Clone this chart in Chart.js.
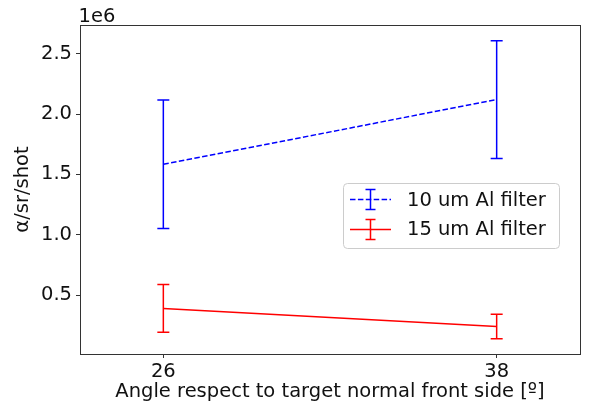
<!DOCTYPE html>
<html>
<head>
<meta charset="utf-8">
<script src="https://cdn.jsdelivr.net/npm/chart.js@4.4.1/dist/chart.umd.min.js"></script>
<style>
  html, body { margin: 0; padding: 0; background: #fff; }
  #wrap { width: 589px; height: 407px; position: relative; }
</style>
</head>
<body>
<div id="wrap"><canvas id="c" width="589" height="407"></canvas></div>
<script>
// Angles (degrees) at which both filters were measured
const angles = [26, 38];
// Alpha yield per steradian per shot, with symmetric uncertainties
const filter10Values = [1.584e6, 2.120e6];
const filter10Errors = [0.532e6, 0.488e6];
const filter15Values = [0.390e6, 0.240e6];
const filter15Errors = [0.198e6, 0.102e6];
// Axis ticks
const xTickValues = [26, 38];
const yTickValues = [0.5e6, 1.0e6, 1.5e6, 2.0e6, 2.5e6];
const seriesLabels = ['10 um Al filter', '15 um Al filter'];

const FONT = 'DejaVu Sans';
const FS = 19.5;
const TEXT = '#111';
const BLUE = '#0000ff';
const RED = '#ff0000';
const DASH = [5.5, 2.4];

function points(xs, ys) {
  return xs.map((x, i) => ({ x: x, y: ys[i] }));
}

// Vertical error bars with caps, drawn through the chart scales
const errorBars = {
  id: 'errorBars',
  afterDatasetsDraw(chart) {
    const { ctx, scales: { x, y } } = chart;
    chart.data.datasets.forEach(ds => {
      ctx.save();
      ctx.strokeStyle = ds.borderColor;
      ctx.lineWidth = 1.5;
      ds.data.forEach((p, i) => {
        const e = ds.errors[i];
        const px = x.getPixelForValue(p.x);
        const top = y.getPixelForValue(p.y + e);
        const bot = y.getPixelForValue(p.y - e);
        ctx.beginPath();
        ctx.moveTo(px, top); ctx.lineTo(px, bot);
        ctx.moveTo(px - 6, top); ctx.lineTo(px + 6, top);
        ctx.moveTo(px - 6, bot); ctx.lineTo(px + 6, bot);
        ctx.stroke();
      });
      ctx.restore();
    });
  }
};

// Axes frame, offset text and legend
const decorations = {
  id: 'decorations',
  afterDraw(chart) {
    const { ctx, chartArea: a } = chart;
    ctx.save();
    ctx.strokeStyle = '#333';
    ctx.lineWidth = 1;
    ctx.strokeRect(Math.round(a.left) + 0.5, Math.round(a.top) + 0.5,
                   Math.round(a.right - a.left), Math.round(a.bottom - a.top));

    ctx.fillStyle = TEXT;
    ctx.font = FS + 'px "' + FONT + '"';
    ctx.textAlign = 'left';
    ctx.textBaseline = 'alphabetic';
    ctx.fillText('1e6', a.left - 1.5, 21.7);

    // legend box
    const bx = 343.5, by = 183.5, bw = 216, bh = 65, r = 4;
    ctx.beginPath();
    ctx.moveTo(bx + r, by);
    ctx.arcTo(bx + bw, by, bx + bw, by + bh, r);
    ctx.arcTo(bx + bw, by + bh, bx, by + bh, r);
    ctx.arcTo(bx, by + bh, bx, by, r);
    ctx.arcTo(bx, by, bx + bw, by, r);
    ctx.closePath();
    ctx.fillStyle = 'rgba(255,255,255,0.8)';
    ctx.fill();
    ctx.strokeStyle = '#cccccc';
    ctx.stroke();

    const rows = [
      { y: 199.5, base: 206, color: BLUE, dash: DASH, label: seriesLabels[0] },
      { y: 229.5, base: 235, color: RED, dash: [], label: seriesLabels[1] }
    ];
    rows.forEach(rw => {
      ctx.strokeStyle = rw.color;
      ctx.lineWidth = 1.5;
      ctx.setLineDash(rw.dash);
      ctx.beginPath();
      ctx.moveTo(350, rw.y); ctx.lineTo(391, rw.y);
      ctx.stroke();
      ctx.setLineDash([]);
      ctx.beginPath();
      ctx.moveTo(370.5, rw.y - 10); ctx.lineTo(370.5, rw.y + 10);
      ctx.moveTo(365.5, rw.y - 10); ctx.lineTo(375.5, rw.y - 10);
      ctx.moveTo(365.5, rw.y + 10); ctx.lineTo(375.5, rw.y + 10);
      ctx.stroke();
      ctx.fillStyle = TEXT;
      ctx.textBaseline = 'alphabetic';
      ctx.fillText(rw.label, 407, rw.base);
    });
    ctx.restore();
  }
};

new Chart(document.getElementById('c'), {
  type: 'line',
  data: {
    datasets: [
      {
        label: seriesLabels[0],
        data: points(angles, filter10Values),
        errors: filter10Errors,
        borderColor: BLUE,
        borderWidth: 1.5,
        borderDash: DASH,
        pointRadius: 0,
        fill: false,
        tension: 0
      },
      {
        label: seriesLabels[1],
        data: points(angles, filter15Values),
        errors: filter15Errors,
        borderColor: RED,
        borderWidth: 1.5,
        pointRadius: 0,
        fill: false,
        tension: 0
      }
    ]
  },
  options: {
    responsive: false,
    animation: false,
    events: [],
    layout: { padding: { top: 25, right: 9, left: 0, bottom: 0 } },
    plugins: { legend: { display: false }, tooltip: { enabled: false } },
    scales: {
      x: {
        type: 'linear',
        min: 23,
        max: 41,
        afterBuildTicks: s => { s.ticks = xTickValues.map(v => ({ value: v })); },
        afterFit: s => { s.height = 53; },
        border: { display: false },
        grid: { drawOnChartArea: false, drawTicks: true, tickLength: 4, color: '#333', lineWidth: 1 },
        ticks: {
          color: TEXT, padding: 2, maxRotation: 0, autoSkip: false,
          font: { family: FONT, size: FS },
          callback: v => String(v)
        },
        title: {
          display: true,
          text: 'Angle respect to target normal front side [º]',
          color: TEXT,
          font: { family: FONT, size: FS },
          padding: { top: 0, bottom: 3.6 }
        }
      },
      y: {
        type: 'linear',
        min: 0.012e6,
        max: 2.738e6,
        afterBuildTicks: s => { s.ticks = yTickValues.map(v => ({ value: v })); },
        afterFit: s => { s.width = 80; },
        border: { display: false },
        grid: { drawOnChartArea: false, drawTicks: true, tickLength: 4, color: '#333', lineWidth: 1 },
        ticks: {
          color: TEXT, padding: 4, autoSkip: false,
          font: { family: FONT, size: FS },
          callback: v => (v / 1e6).toFixed(1)
        },
        title: {
          display: true,
          text: 'α/sr/shot',
          color: TEXT,
          font: { family: FONT, size: FS },
          padding: { top: 11.5, bottom: 0 }
        }
      }
    }
  },
  plugins: [errorBars, decorations]
});
</script>
</body>
</html>
